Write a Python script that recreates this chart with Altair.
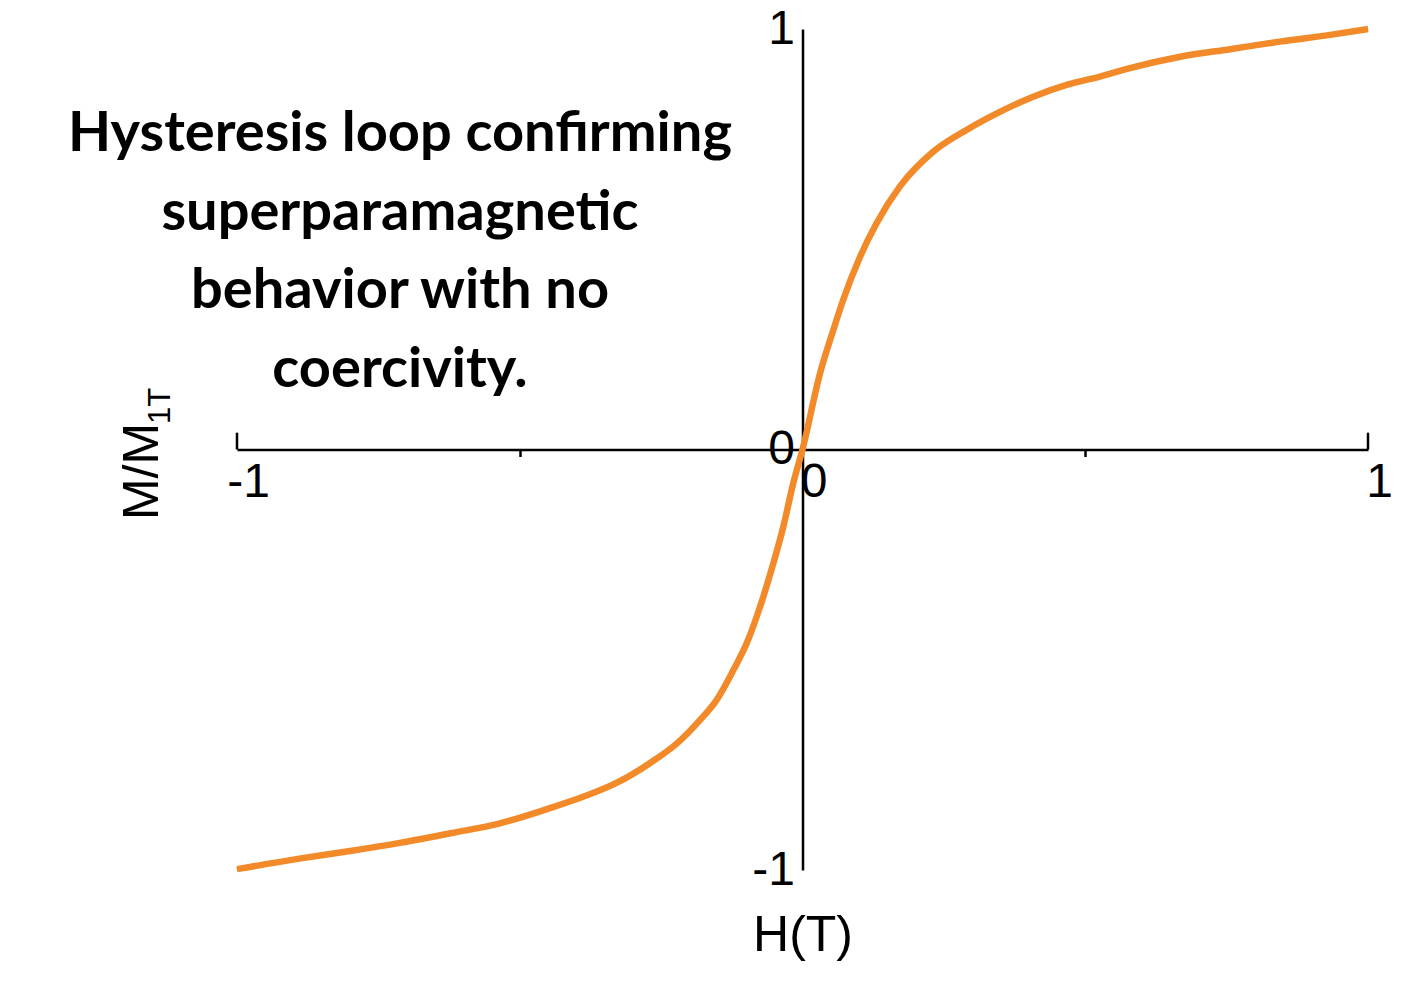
import altair as alt
import pandas as pd

# Field H (T) and normalised magnetisation M/M1T
H_vals = [-1.0, -0.89, -0.80, -0.71, -0.62, -0.535, -0.447, -0.388, -0.329, -0.270,
          -0.222, -0.181, -0.152, -0.122, -0.0987, -0.0693, -0.0516, -0.034, -0.0163,
          0.0, 0.031, 0.0545, 0.072, 0.102, 0.131, 0.172, 0.231, 0.290, 0.349, 0.408,
          0.467, 0.526, 0.579, 0.668, 0.756, 0.844, 0.933, 1.0]
M_vals = [-0.998, -0.973, -0.955, -0.935, -0.912, -0.889, -0.853, -0.826, -0.793, -0.746,
          -0.699, -0.643, -0.596, -0.524, -0.461, -0.350, -0.271, -0.184, -0.080,
          0.0, 0.181, 0.284, 0.356, 0.459, 0.538, 0.625, 0.708, 0.760, 0.803, 0.839,
          0.867, 0.887, 0.907, 0.934, 0.952, 0.970, 0.986, 1.0]

x_tick_values = [-1, -0.5, 0, 0.5, 1]
x_end_ticks = [-1, 1]
y_tick_values = [-1, 0, 1]
title_lines = ["Hysteresis loop confirming", "superparamagnetic", "behavior with no", "coercivity."]
x_title = "H(T)"
y_title = "M/M"
y_title_sub = "1T"

df = pd.DataFrame({"H": H_vals, "M": M_vals})
df_ticks = pd.DataFrame({"H": x_end_ticks})
df_sub = pd.DataFrame({"t": [y_title_sub]})
df_title = pd.DataFrame({"k": [0]})

FONT = "Liberation Sans"
ORANGE = "#F28A2A"
GRAY = "#4a4a4a"
LABEL_EXPR = "datum.value < 0 ? '-' + abs(datum.value) : '' + datum.value"

xscale = alt.Scale(domain=[-1, 1], nice=False, zero=False)
yscale = alt.Scale(domain=[-1, 1], nice=False, zero=False)

x_axis = alt.Axis(
    values=x_tick_values, orient="bottom", offset=-420.5,
    domainColor="black", domainWidth=2.5,
    tickColor="black", tickWidth=2.5, tickSize=7,
    tickOpacity=alt.condition("abs(datum.value) == 0.5", alt.value(1), alt.value(0)),
    labelExpr="abs(datum.value) == 0.5 ? '' : (" + LABEL_EXPR + ")",
    labelFont=FONT, labelFontSize=48, labelColor="black",
    labelFlush=False, labelOverlap=False, labelOffset=11, labelPadding=2,
    labelBaseline="top", labelAlign="center",
    grid=False, title=x_title, titleFont=FONT, titleFontSize=50,
    titleFontWeight="normal", titleColor="black",
    titleX=565.5, titleY=500.5, titleBaseline="alphabetic", titleAlign="center",
)
y_axis = alt.Axis(
    values=y_tick_values, orient="left", offset=-565.5,
    domainColor="black", domainWidth=2.5,
    ticks=False, tickSize=0,
    labelExpr=LABEL_EXPR,
    labelFont=FONT, labelFontSize=48, labelColor="black",
    labelFlush=False, labelOverlap=False, labelPadding=8,
    labelBaseline="middle", labelAlign="right",
    grid=False, title=y_title, titleFont=FONT, titleFontSize=50,
    titleFontWeight="normal", titleColor="black", titleAngle=270,
    titleX=-645.5, titleY=442, titleBaseline="alphabetic", titleAlign="center",
)

base = alt.Chart(df)

branch_down = base.mark_line(color=GRAY, strokeWidth=3, interpolate="monotone").encode(
    x=alt.X("H:Q", scale=xscale, axis=x_axis),
    y=alt.Y("M:Q", scale=yscale, axis=y_axis),
)
branch_up = base.mark_line(color=ORANGE, strokeWidth=6.5, interpolate="monotone").encode(
    x=alt.X("H:Q", scale=xscale),
    y=alt.Y("M:Q", scale=yscale),
)

end_ticks = alt.Chart(df_ticks).mark_rule(color="black", strokeWidth=2.5).encode(
    x=alt.X("H:Q", scale=xscale),
    y=alt.datum(0),
    y2=alt.datum(0.04),
)

sub_label = alt.Chart(df_sub).mark_text(
    font=FONT, fontSize=31, color="black", angle=270,
    align="center", baseline="alphabetic",
).encode(text="t:N", x=alt.value(-67), y=alt.value(377))

title_text = alt.Chart(df_title).mark_text(
    text=title_lines, font="Lato", fontSize=56, fontWeight="bold", color="black",
    align="center", baseline="alphabetic", lineHeight=78.5,
).encode(x=alt.value(163), y=alt.value(122))

chart = alt.layer(branch_down, branch_up, end_ticks, sub_label, title_text).properties(
    width=1131, height=841,
    autosize=alt.AutoSizeParams(type="none"),
    padding={"left": 229, "top": 21, "right": 50, "bottom": 100},
    background="white",
).configure_view(stroke="transparent", strokeWidth=0)

chart.save("out.html", embed_options={"renderer": "svg", "actions": False})
